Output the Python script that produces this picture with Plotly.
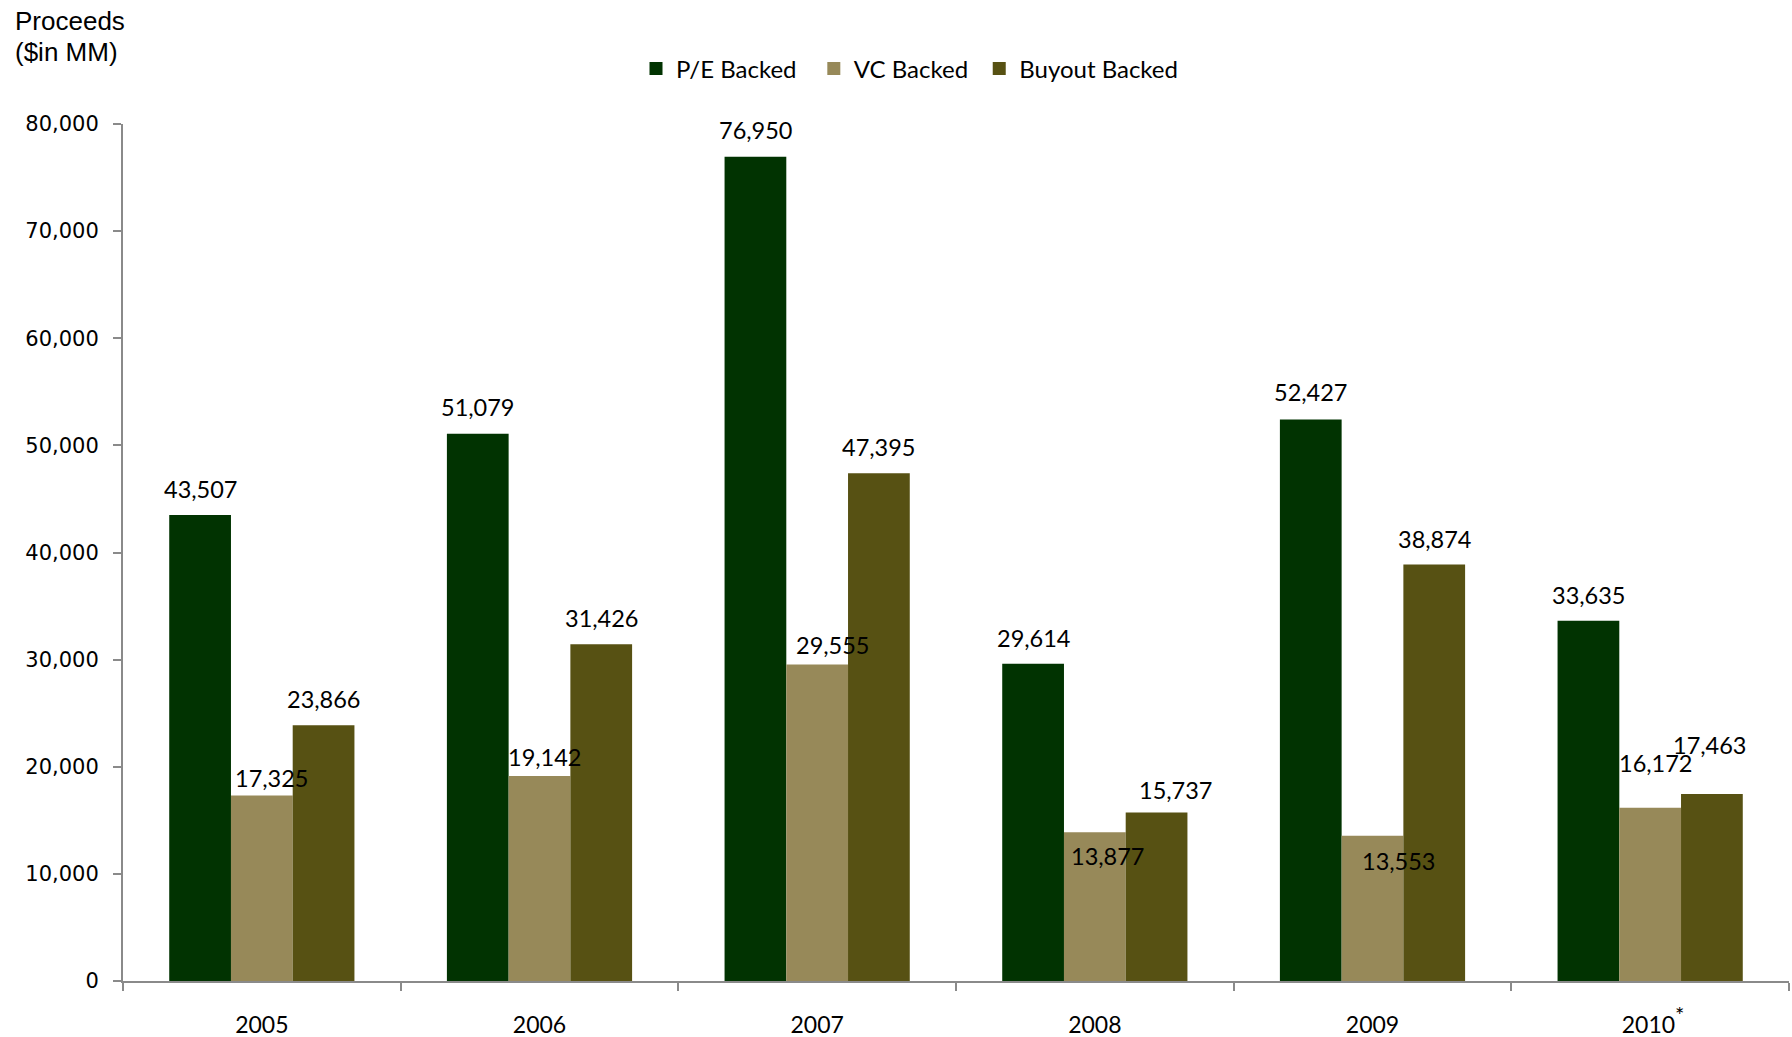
import plotly.graph_objects as go

years = ["2005", "2006", "2007", "2008", "2009", "2010"]
year_labels = ["2005", "2006", "2007", "2008", "2009",
               "&nbsp;2010<sup><span style='font-size:22px'>*</span></sup>"]
pe_backed = [43507, 51079, 76950, 29614, 52427, 33635]
vc_backed = [17325, 19142, 29555, 13877, 13553, 16172]
buyout_backed = [23866, 31426, 47395, 15737, 38874, 17463]

series_names = ["P/E Backed", "VC Backed", "Buyout Backed"]
legend_pad = ["&nbsp;&nbsp;", "&nbsp;", ""]
colors = ["#013301", "#978959", "#575113"]

# label placement (pixel offsets of label centre from bar top / bar centre)
label_dy = [
    [-26, -27, -27, -26, -27, -26],
    [-17, -19, -19, 24, 25, -45],
    [-26, -26, -26, -22, -26, -49],
]
label_dx = [
    [0, 0, 0, 0, 0, 0],
    [10, 5, 15, 13, 26, 5],
    [0, 0, 0, 19, 0, -2],
]

W, H = 1792, 1037
ML, MR, MT, MB = 123, 3, 124, 56
PW, PH = W - ML - MR, H - MT - MB

LABEL_FONT = "Lato, 'Open Sans', sans-serif"
AXIS_COLOR = "#8a8a8a"
bargap = 0.333

fig = go.Figure()
all_series = [pe_backed, vc_backed, buyout_backed]
for name, vals, col in zip(series_names, all_series, colors):
    fig.add_trace(go.Bar(x=years, y=vals, name=name, showlegend=False,
                         marker=dict(color=col, line=dict(width=0))))
# legend entries (square swatches)
for name, pad, col in zip(series_names, legend_pad, colors):
    fig.add_trace(go.Scatter(x=[None], y=[None], mode="markers", name=name + pad,
                             marker=dict(symbol="square", size=13, color=col, line=dict(width=0))))

annotations = []
bw = (1 - bargap) / 3
for k, vals in enumerate(all_series):
    off = (k - 1) * bw
    for i, v in enumerate(vals):
        annotations.append(dict(
            x=i + off, y=v, xref="x", yref="y",
            text=f"{v:,}", showarrow=False,
            xanchor="center", yanchor="middle",
            yshift=-label_dy[k][i], xshift=label_dx[k][i],
            font=dict(family=LABEL_FONT, size=23.5, color="#000000"),
        ))

TITLE_FONT = dict(family="'Liberation Sans', Arial, sans-serif", size=26, color="#000000")
for txt, yc in (("Proceeds", 21), ("($in MM)", 52)):
    annotations.append(dict(
        x=(13 - ML) / PW, y=(H - MB - yc) / PH, xref="paper", yref="paper",
        text=txt, showarrow=False, align="left",
        xanchor="left", yanchor="middle", font=TITLE_FONT,
    ))

fig.update_layout(
    width=W, height=H,
    margin=dict(l=ML, r=MR, t=MT, b=MB, autoexpand=False),
    paper_bgcolor="white", plot_bgcolor="white",
    barmode="group", bargap=bargap, bargroupgap=0,
    showlegend=True,
    legend=dict(
        orientation="h", xref="container", yref="container",
        x=636 / W, y=1 - 69 / H, xanchor="left", yanchor="middle",
        font=dict(family=LABEL_FONT, size=24, color="#000000"),
        bgcolor="rgba(0,0,0,0)",
    ),
    xaxis=dict(
        type="category", categoryorder="array", categoryarray=years,
        tickmode="array", tickvals=years, ticktext=year_labels,
        tickson="boundaries", ticks="outside", ticklen=8, tickcolor=AXIS_COLOR, tickwidth=2,
        showline=True, linecolor=AXIS_COLOR, linewidth=2,
        showgrid=False, zeroline=False, automargin=False,
        tickfont=dict(family=LABEL_FONT, size=23, color="#000000"),
        ticklabelstandoff=22,
    ),
    yaxis=dict(
        range=[0, 80000], tickmode="linear", tick0=0, dtick=10000,
        tickformat=",d",
        ticks="outside", ticklen=8, tickcolor=AXIS_COLOR, tickwidth=2,
        showline=True, linecolor=AXIS_COLOR, linewidth=2,
        showgrid=False, zeroline=False, automargin=False,
        tickfont=dict(family="'DejaVu Sans', Verdana, sans-serif", size=21, color="#000000"),
        ticklabelstandoff=10,
    ),
    annotations=annotations,
)

fig.write_html("out.html")
